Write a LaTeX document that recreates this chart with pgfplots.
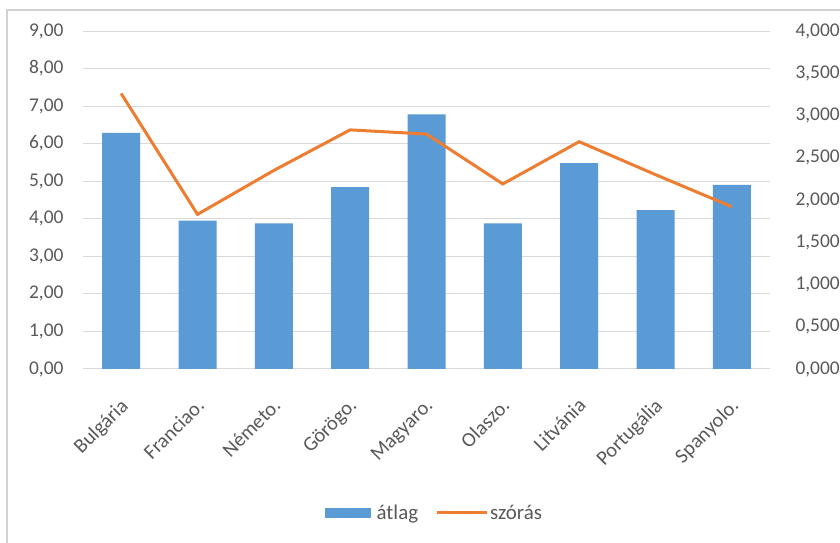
\documentclass[border=0pt]{standalone}
\usepackage{pgfplots}
\pgfplotsset{compat=1.18}
\usepackage{fontspec}
\setmainfont{Carlito}
\definecolor{barblue}{HTML}{5B9BD5}
\definecolor{lineorange}{HTML}{ED7D31}
\definecolor{txtgray}{HTML}{595959}
\definecolor{gridgray}{HTML}{D9D9D9}
\begin{document}
\begin{tikzpicture}
\useasboundingbox (0,0) rectangle (840bp,543bp);
\fill[white] (0,0) rectangle (840bp,543bp);
\draw[gray!35, line width=1.2bp] (7bp,-20bp) -- (7bp,533bp) -- (860bp,533bp);
\pgfplotsset{
  common/.style={
    at={(83bp,174bp)}, anchor=south west,
    scale only axis, width=687bp, height=338bp,
    xmin=-0.5, xmax=8.5,
    axis line style={draw=none},
    major tick length=0pt,
    tick label style={font=\fontsize{19.5}{22}\selectfont, text=txtgray},
    /pgf/number format/assume math mode=true,
  }
}
\begin{axis}[
  common,
  ymin=0, ymax=9, ytick={0,1,...,9},
  ymajorgrids, grid style={gridgray, line width=1bp},
  yticklabel style={/pgf/number format/fixed, /pgf/number format/fixed zerofill, /pgf/number format/precision=2, /pgf/number format/use comma, xshift=-16bp},
  xtick={0,...,8},
  xticklabels={Bulgária,Franciao.,Németo.,Görögo.,Magyaro.,Olaszo.,Litvánia,Portugália,Spanyolo.},
  xticklabel style={xshift=-2bp, yshift=-25bp, rotate=45, anchor=north east, inner sep=2bp, font=\fontsize{20.5}{22}\selectfont},
]
\addplot[ybar, bar width=38bp, fill=barblue, draw=none] coordinates {
  (0,6.29) (1,3.95) (2,3.88) (3,4.84) (4,6.78) (5,3.88) (6,5.48) (7,4.23) (8,4.90)
};
\end{axis}
\begin{axis}[
  common,
  ymin=0, ymax=4, ytick={0,0.5,...,4},
  axis y line*=right, axis x line=none,
  yticklabel style={/pgf/number format/fixed, /pgf/number format/fixed zerofill, /pgf/number format/precision=3, /pgf/number format/use comma, xshift=22bp},
  legend style={at={(0.3523,-0.426)}, anchor=west, draw=none, fill=none, inner sep=0pt,
    legend columns=2, font=\fontsize{21}{24}\selectfont, text=txtgray,
    /tikz/every even column/.append style={column sep=15bp}},
]
\addlegendimage{legend image code/.code={\fill[barblue] (0bp,-4.5bp) rectangle (45bp,4.5bp);}}
\addlegendentry{\hspace{4bp}átlag}
\addplot[lineorange, line width=3bp, legend image code/.code={\draw[lineorange, line width=3bp] (0bp,0bp) -- (50bp,0bp);}] coordinates {
  (0,3.26) (1,1.83) (2,2.35) (3,2.83) (4,2.78) (5,2.19) (6,2.69) (7,2.30) (8,1.92)
};
\addlegendentry{szórás}
\end{axis}
\end{tikzpicture}
\end{document}
